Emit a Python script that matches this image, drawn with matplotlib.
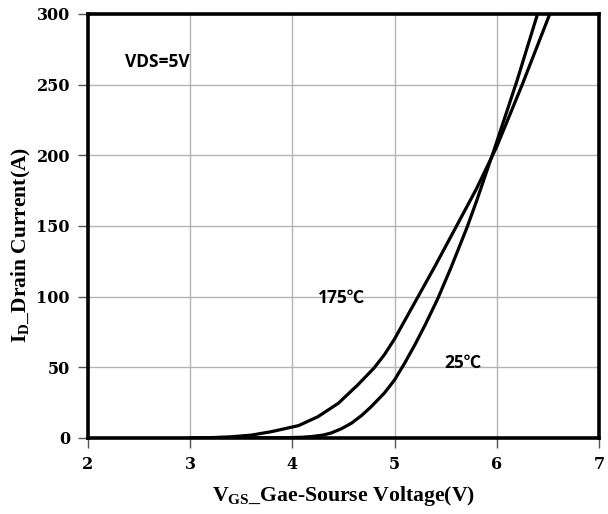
import matplotlib
matplotlib.use('Agg')
import matplotlib.pyplot as plt

# transfer characteristics (VDS = 5V)
vgs_25 = [3.6, 3.9, 4.1, 4.19, 4.3, 4.38, 4.48, 4.58, 4.68, 4.77, 4.9, 5.0, 5.1, 5.2, 5.3,
          5.42, 5.55, 5.71, 5.8, 5.98, 6.2, 6.4]
id_25 = [0, 0.1, 0.5, 1, 2, 3.5, 6.5, 10.5, 16, 22, 31.7, 41, 53, 66, 80,
         98, 120, 149, 167, 205, 253, 300]

vgs_175 = [3.0, 3.2, 3.4, 3.6, 3.8, 4.06, 4.25, 4.45, 4.64, 4.8, 4.9, 5.0, 5.2, 5.4,
           5.6, 5.8, 6.0, 6.25, 6.52]
id_175 = [0, 0.2, 0.8, 2, 4.5, 8.7, 15, 24.5, 37.5, 49.5, 58.8, 70, 96, 122,
          149, 176, 206, 250, 300]

x_ticks = [2, 3, 4, 5, 6, 7]
y_ticks = [0, 50, 100, 150, 200, 250, 300]

plt.rcParams['mathtext.fontset'] = 'custom'
plt.rcParams['mathtext.rm'] = 'Liberation Serif:bold'
plt.rcParams['mathtext.it'] = 'Liberation Serif:bold'
plt.rcParams['mathtext.bf'] = 'Liberation Serif:bold'

fig = plt.figure(figsize=(6.08, 5.14), dpi=100)
ax = fig.add_axes([0.1447, 0.148, 0.8403, 0.825])

ax.plot(vgs_25, id_25, color='black', lw=2.3, solid_joinstyle='round')
ax.plot(vgs_175, id_175, color='black', lw=2.3, solid_joinstyle='round')

ax.set_xlim(2, 7)
ax.set_ylim(0, 300)
ax.set_xticks(x_ticks)
ax.set_yticks(y_ticks)
ax.grid(True, color='#b4b4b4', lw=1)
ax.set_axisbelow(True)

for s in ax.spines.values():
    s.set_linewidth(2.6)
ax.tick_params(direction='out', length=7, width=1, color='#555555', pad=6)
for lab in ax.get_xticklabels() + ax.get_yticklabels():
    lab.set_fontfamily('DejaVu Serif')
    lab.set_fontweight('bold')
    lab.set_fontsize(11.5)

ax.set_xlabel('V$_\\mathrm{GS}$_Gae-Sourse Voltage(V)', fontfamily='Liberation Serif',
              fontweight='bold', fontsize=15.7)
ax.xaxis.set_label_coords(0.5, -0.108)
ax.set_ylabel('I$_\\mathrm{D}$_Drain Current(A)', fontfamily='Liberation Serif',
              fontweight='bold', fontsize=15.5)
ax.yaxis.set_label_coords(-0.108, 0.455)

note_font = dict(fontfamily=['Open Sans', 'Noto Sans CJK SC'], fontweight='bold', fontsize=12.5)
ax.text(2.36, 266, 'VDS=5V', va='center', ha='left', **note_font)
ax.text(4.25, 99, '175℃', va='center', ha='left', **note_font)
ax.text(5.49, 53, '25℃', va='center', ha='left', **note_font)

fig.savefig('out.png', dpi=100)
